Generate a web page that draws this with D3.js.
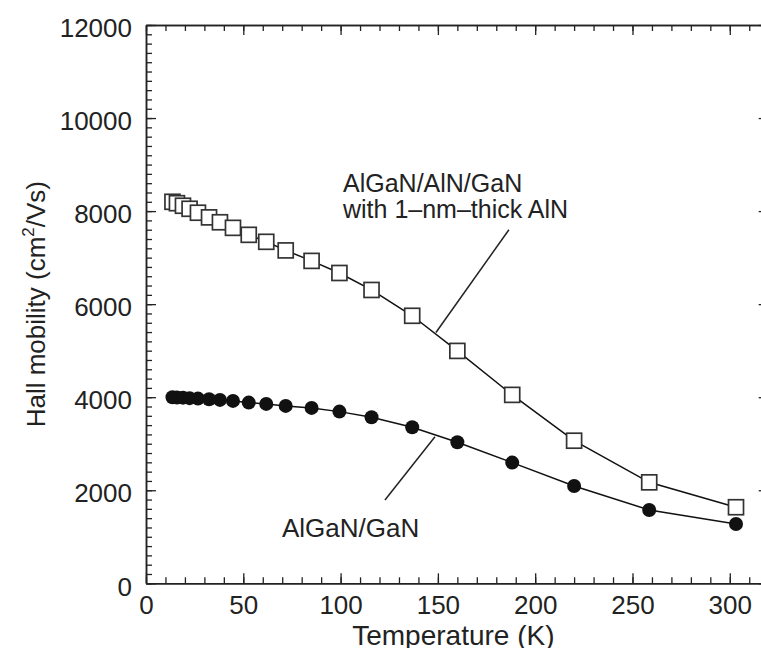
<!DOCTYPE html>
<html>
<head>
<meta charset="utf-8">
<script src="https://cdn.jsdelivr.net/npm/d3@7"></script>
<style>
  html, body { margin: 0; padding: 0; background: #fff; }
  svg { display: block; }
  text { font-family: "Liberation Sans", Arial, Helvetica, sans-serif; fill: #222; }
</style>
</head>
<body>
<svg id="chart" width="761" height="648"></svg>
<script>
// ---- data ----
const temperatures = [13.6, 15.9, 19, 22.4, 26.7, 32.4, 38, 44.7, 52.8, 61.8, 71.8, 85.1, 99.4, 115.9, 136.8, 160, 188.2, 220, 258.6, 303.2];
const mobilityAlN  = [8200, 8170, 8115, 8050, 7965, 7865, 7760, 7640, 7490, 7340, 7155, 6930, 6670, 6305, 5750, 4995, 4050, 3065, 2170, 1635];
const mobilityGaN  = [4000, 3995, 3990, 3980, 3970, 3957, 3942, 3920, 3884, 3856, 3813, 3770, 3690, 3570, 3355, 3032, 2594, 2092, 1576, 1275];
const xTicks = [0, 50, 100, 150, 200, 250, 300];
const yTicks = [0, 2000, 4000, 6000, 8000, 10000, 12000];
const labelAlN = ["AlGaN/AlN/GaN", "with 1\u2013nm\u2013thick AlN"];
const labelGaN = "AlGaN/GaN";
const xTitle = "Temperature (K)";
// leader lines in data coordinates [T, mobility]
const leaderAlN = [[186.5, 7600], [149, 5390]];
const leaderGaN = [[148.5, 3150], [122.8, 1790]];

// ---- layout ----
const svg = d3.select("#chart");
const x = d3.scaleLinear().domain([0, 320]).range([146, 768.7]);
const y = d3.scaleLinear().domain([0, 12000]).range([583.3, 25]);
const xMinor = d3.range(0, 321, 10);
const yMinor = d3.range(0, 12001, 200);

function styleAxis(g) {
  g.selectAll("path.domain").attr("stroke", "#222").attr("stroke-width", 1.5);
  g.selectAll(".tick line").attr("stroke", "#222").attr("stroke-width", 1.3);
}

// minor ticks
[
  [d3.axisBottom(x), `translate(0,${y(0)})`, xMinor],
  [d3.axisTop(x), `translate(0,${y(12000)})`, xMinor],
  [d3.axisLeft(y), `translate(${x(0)},0)`, yMinor],
  [d3.axisRight(y), `translate(${x(320)},0)`, yMinor]
].forEach(([ax, tr, vals]) => {
  const g = svg.append("g").attr("transform", tr)
    .call(ax.tickValues(vals).tickSize(-6).tickSizeOuter(0).tickFormat(""));
  styleAxis(g);
});

// major ticks
const gxB = svg.append("g").attr("transform", `translate(0,${y(0)})`)
  .call(d3.axisBottom(x).tickValues(xTicks).tickSize(-10).tickSizeOuter(0).tickPadding(12).tickFormat(d3.format("d")));
const gxT = svg.append("g").attr("transform", `translate(0,${y(12000)})`)
  .call(d3.axisTop(x).tickValues(xTicks).tickSize(-10).tickSizeOuter(0).tickFormat(""));
const gyL = svg.append("g").attr("transform", `translate(${x(0)},0)`)
  .call(d3.axisLeft(y).tickValues(yTicks).tickSize(-10).tickSizeOuter(0).tickPadding(14).tickFormat(d3.format("d")));
const gyR = svg.append("g").attr("transform", `translate(${x(320)},0)`)
  .call(d3.axisRight(y).tickValues(yTicks).tickSize(-10).tickSizeOuter(0).tickFormat(""));
[gxB, gxT, gyL, gyR].forEach(styleAxis);
[gxB, gyL].forEach(g => g.selectAll("text").attr("font-size", 26).attr("fill", "#222")
  .attr("font-family", '"Liberation Sans", Arial, Helvetica, sans-serif'));
gyL.selectAll("text").attr("dy", "0.45em");

// axis titles
svg.append("text").attr("x", (x(0) + x(320)) / 2 - 4).attr("y", 645)
  .attr("text-anchor", "middle").attr("font-size", 28).text(xTitle);

const yt = svg.append("text").attr("transform", `translate(45,${(y(0) + y(12000)) / 2}) rotate(-90)`)
  .attr("text-anchor", "middle").attr("font-size", 26);
yt.append("tspan").text("Hall mobility (cm");
yt.append("tspan").attr("dy", -11).attr("font-size", 17).text("2");
yt.append("tspan").attr("dy", 11).text("/Vs)");

// series lines
const pts = (vals) => temperatures.map((t, i) => [t, vals[i]]);
const line = d3.line().x(d => x(d[0])).y(d => y(d[1]));
svg.append("path").attr("d", line(pts(mobilityAlN))).attr("fill", "none").attr("stroke", "#111").attr("stroke-width", 1.5);
svg.append("path").attr("d", line(pts(mobilityGaN))).attr("fill", "none").attr("stroke", "#111").attr("stroke-width", 1.5);

// markers
const sq = 15;
svg.append("g").selectAll("rect").data(pts(mobilityAlN)).join("rect")
  .attr("x", d => x(d[0]) - sq / 2).attr("y", d => y(d[1]) - sq / 2)
  .attr("width", sq).attr("height", sq)
  .attr("fill", "#fff").attr("stroke", "#333").attr("stroke-width", 1.7);
svg.append("g").selectAll("circle").data(pts(mobilityGaN)).join("circle")
  .attr("cx", d => x(d[0])).attr("cy", d => y(d[1])).attr("r", 7)
  .attr("fill", "#111");

// leader lines
[leaderAlN, leaderGaN].forEach(l => {
  svg.append("line")
    .attr("x1", x(l[0][0])).attr("y1", y(l[0][1]))
    .attr("x2", x(l[1][0])).attr("y2", y(l[1][1]))
    .attr("stroke", "#222").attr("stroke-width", 1.5);
});

// annotations
svg.append("text").attr("x", 343).attr("y", 192).attr("font-size", 25).text(labelAlN[0]);
svg.append("text").attr("x", 343).attr("y", 218).attr("font-size", 25).text(labelAlN[1]);
svg.append("text").attr("x", 282).attr("y", 537).attr("font-size", 26).text(labelGaN);
</script>
</body>
</html>
